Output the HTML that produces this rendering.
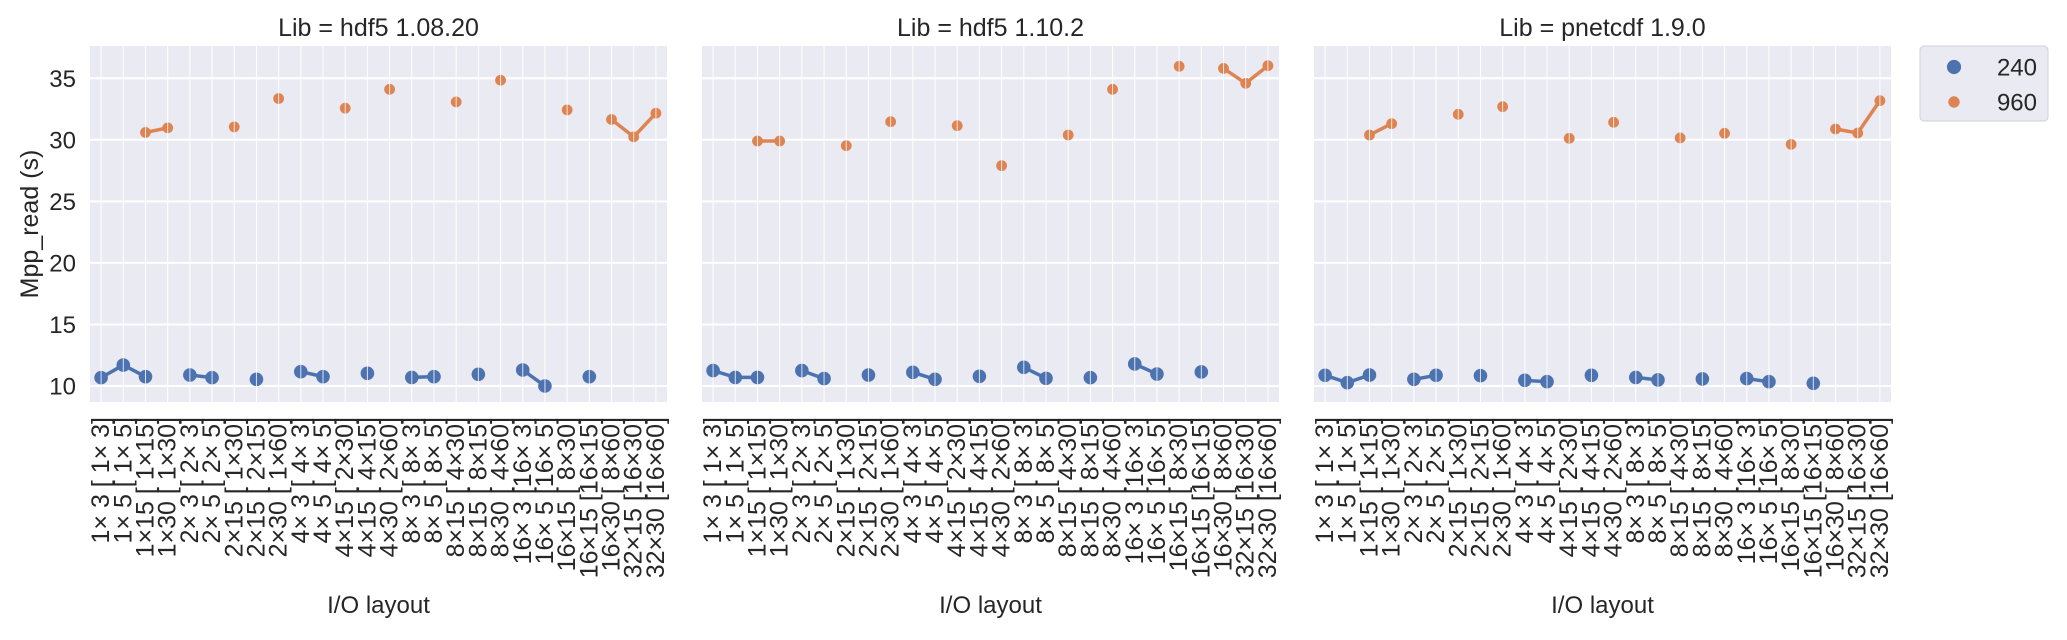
<!DOCTYPE html>
<html><head><meta charset="utf-8"><style>
html,body{margin:0;padding:0;background:#fff;}
svg{display:block;font-family:"Liberation Sans",Arial,sans-serif;}
</style></head><body>
<svg id="chart" width="2067" height="640" xmlns="http://www.w3.org/2000/svg"></svg>
<script>
const categories = ["1× 3  [ 1× 3]","1× 5  [ 1× 5]","1×15  [ 1×15]","1×30  [ 1×30]","2× 3  [ 2× 3]","2× 5  [ 2× 5]","2×15  [ 1×30]","2×15  [ 2×15]","2×30  [ 1×60]","4× 3  [ 4× 3]","4× 5  [ 4× 5]","4×15  [ 2×30]","4×15  [ 4×15]","4×30  [ 2×60]","8× 3  [ 8× 3]","8× 5  [ 8× 5]","8×15  [ 4×30]","8×15  [ 8×15]","8×30  [ 4×60]","16× 3  [16× 3]","16× 5  [16× 5]","16×15  [ 8×30]","16×15  [16×15]","16×30  [ 8×60]","32×15  [16×30]","32×30  [16×60]"];
const panelTitles = ["Lib = hdf5 1.08.20","Lib = hdf5 1.10.2","Lib = pnetcdf 1.9.0"];
const seriesNames = ["240","960"];
const yTicks = [10,15,20,25,30,35];
const N = null;
const hdf5_108_240 = [10.68,11.7,10.76,N,10.89,10.68,N,10.54,N,11.16,10.76,N,11.03,N,10.7,10.76,N,10.95,N,11.3,10.0,N,10.76,N,N,N];
const hdf5_108_960 = [N,N,30.6,30.97,N,N,31.05,N,33.35,N,N,32.57,N,34.1,N,N,33.08,N,34.84,N,N,32.43,N,31.65,30.24,32.16];
const hdf5_110_240 = [11.25,10.7,10.7,N,11.25,10.6,N,10.89,N,11.11,10.54,N,10.79,N,11.52,10.62,N,10.68,N,11.79,10.97,N,11.14,N,N,N];
const hdf5_110_960 = [N,N,29.9,29.9,N,N,29.52,N,31.47,N,N,31.15,N,27.9,N,N,30.39,N,34.1,N,N,35.97,N,35.8,34.59,36.02];
const pnetcdf_240 = [10.87,10.27,10.89,N,10.54,10.87,N,10.84,N,10.46,10.35,N,10.87,N,10.7,10.49,N,10.57,N,10.6,10.35,N,10.22,N,N,N];
const pnetcdf_960 = [N,N,30.39,31.31,N,N,32.07,N,32.69,N,N,30.12,N,31.42,N,N,30.15,N,30.53,N,N,29.63,N,30.88,30.55,33.18];

const panelData = [[hdf5_108_240,hdf5_108_960],[hdf5_110_240,hdf5_110_960],[pnetcdf_240,pnetcdf_960]];
const colors = ["#4c72b0","#dd8452"];
const radii = [6.8,5.4];
const panelLeft = [90,702,1314], PW = 577, TOP = 46, BOT = 402;
const YMIN = 8.70, YMAX = 37.62;
const NS = "http://www.w3.org/2000/svg";
const svg = document.getElementById('chart');
function mk(tag, attrs, parent){const e=document.createElementNS(NS,tag);for(const k in attrs)e.setAttribute(k,attrs[k]);(parent||svg).appendChild(e);return e;}
function yScale(v){return BOT-(v-YMIN)/(YMAX-YMIN)*(BOT-TOP);}
function xScale(p,i){return panelLeft[p]+(i+0.5)*PW/categories.length;}

panelTitles.forEach((title,p)=>{
  const g = mk('g',{});
  
  
  const bg = mk('rect',{x:panelLeft[p],y:TOP,width:PW,height:BOT-TOP,fill:'#eaeaf2'},g);
  
  
  categories.forEach((c,i)=>{
    const x=xScale(p,i);
    const gl=mk('line',{x1:x,x2:x,y1:TOP,y2:BOT,stroke:'#fff','stroke-width':1},g);
    
    
    const t=mk('text',{x:0,y:0,transform:`translate(${x},417) rotate(-90)`,'text-anchor':'end','dominant-baseline':'central','font-size':25,fill:'#262626','xml:space':'preserve'},g);
    t.textContent=c;
    
    
  });
  yTicks.forEach(v=>{
    const y=yScale(v);
    const gl=mk('line',{x1:panelLeft[p],x2:panelLeft[p]+PW,y1:y,y2:y,stroke:'#fff','stroke-width':2},g);
    
    
    if(p===0){
      const t=mk('text',{x:76,y:y+8.5,'text-anchor':'end','font-size':24,fill:'#262626'},g);
      t.textContent=v;
      
      
    }
  });
  const tt=mk('text',{x:panelLeft[p]+PW/2,y:36,'text-anchor':'middle','font-size':25,fill:'#262626'},g);
  tt.textContent=title;
  
  
  const xl=mk('text',{x:panelLeft[p]+PW/2,y:613,'text-anchor':'middle','font-size':24,fill:'#262626'},g);
  xl.textContent='I/O layout';
  
  
  panelData[p].forEach((vals,s)=>{
    for(let i=0;i<vals.length-1;i++){
      if(vals[i]!=null&&vals[i+1]!=null){
        const l=mk('line',{x1:xScale(p,i),y1:yScale(vals[i]),x2:xScale(p,i+1),y2:yScale(vals[i+1]),stroke:colors[s],'stroke-width':3.5,'stroke-linecap':'round'},g);
        
        
      }
    }
    vals.forEach((v,i)=>{
      if(v==null)return;
      const cx=xScale(p,i),cy=yScale(v);
      const c=mk('circle',{cx:cx,cy:cy,r:radii[s],fill:colors[s]},g);
      
      
      const w=mk('line',{x1:cx,x2:cx,y1:cy-radii[s],y2:cy+radii[s],stroke:'#fff','stroke-width':1,opacity:0.8},g);
      
      
    });
  });
});
const yl=mk('text',{x:0,y:0,transform:'translate(30,224) rotate(-90)','text-anchor':'middle','dominant-baseline':'central','font-size':25,fill:'#262626'});
yl.textContent='Mpp_read (s)';


const lg=mk('g',{});


mk('rect',{x:1920,y:46,width:128,height:75,rx:4,fill:'#eaeaf2',stroke:'#d0d0d8','stroke-width':1},lg);
seriesNames.forEach((n,s)=>{
  const y=67+s*35;
  const c=mk('circle',{cx:1954,cy:y,r:radii[s]+0.3,fill:colors[s]},lg);
  
  
  const t=mk('text',{x:2037,y:y+8.5,'text-anchor':'end','font-size':24,fill:'#262626'},lg);
  t.textContent=n;
  
  
});
</script>
</body></html>
